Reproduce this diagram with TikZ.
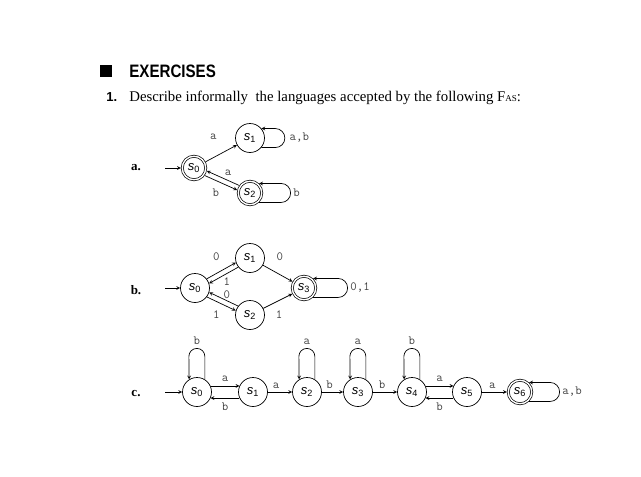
\documentclass[tikz,border=0pt]{standalone}
\usepackage{fontspec}
\setmainfont{Liberation Serif}
\setsansfont{Liberation Sans}
\newfontfamily\headfont{Liberation Sans}[FakeStretch=0.84]
\usetikzlibrary{arrows}
\tikzset{every path/.style={line width=0.7pt}, >=stealth,
  state/.style={circle, draw, minimum size=29pt, inner sep=0pt, font=\fontsize{13}{13}\sffamily\itshape},
  accept/.style={state, double, double distance=1.4pt, minimum size=23.5pt, outer sep=1.4pt},
  lbl/.style={font=\fontsize{12.5}{12.5}\ttfamily, text=black!75, inner sep=1.5pt},
  part/.style={font=\fontsize{13}{13}\bfseries, inner sep=0pt},
  rloop/.style={->, to path={-- ++(#1,0) arc[start angle=-90, end angle=90, radius=9.5pt] \tikztonodes -- (\tikztotarget)}},
  uloop/.style={->, to path={-- ++(0,23) arc[start angle=0, end angle=180, radius=8pt] \tikztonodes -- (\tikztotarget)}}}
\newcommand{\st}[1]{s\textsubscript{\upshape #1}}

\begin{document}
\begin{tikzpicture}[x=1pt,y=1pt]
   \useasboundingbox (0,0) rectangle (641,-477);
   \fill (100,-65) rectangle (112,-77);
   \node[anchor=base west, inner sep=0pt, font=\fontsize{18}{18}\headfont\bfseries] (title) at (129,-77) {EXERCISES};
   \node[anchor=base west, inner sep=0pt, font=\fontsize{13}{13}\sffamily\bfseries] (num) at (106,-101) {1.};
   \node[anchor=base west, inner sep=0pt, font=\fontsize{14.8}{14.8}\selectfont] (task) at (129,-101)
        {Describe informally\ \ the languages accepted by the following F{\small AS}:};
   \begin{scope}[yshift=-168pt]
    \node[part] (la) at (136,0) {a.};
    \coordinate (ina) at (165,0);
    \node[accept] (a0) at (194,0) {\st0};
    \node[state] (a1) at (250,30) {\st1};
    \node[accept] (a2) at (250,-25) {\st2};
    \draw[->] (ina) -- (a0);
    \draw[->] (a0) -- node[lbl, above left, pos=0.6, xshift=-6pt, yshift=10pt] {a} (a1);
    \draw[->] (a2.145) -- node[lbl, above right, yshift=1pt] {a} (a0.-13);
    \draw[->] (a0.-35) -- node[lbl, below left, yshift=-4pt] {b} (a2.167);
    \draw[rloop=14] (a1.-40) to node[lbl, right, xshift=3pt] {a,b} (a1.40);
    \draw[rloop=22] (a2.-46) to node[lbl, right, xshift=1pt] {b} (a2.46);
   \end{scope}
   \begin{scope}[yshift=-288pt]
    \node[part] (lb) at (136,-2) {b.};
    \coordinate (inb) at (165,0);
    \node[state] (b0) at (195,0) {\st0};
    \node[state] (b1) at (250,30) {\st1};
    \node[state] (b2) at (250,-27) {\st2};
    \node[accept] (b3) at (304,0) {\st3};
    \draw[->] (inb) -- (b0);
    \draw[->] (b0.38) -- node[lbl, above left, yshift=8pt] {0} (b1.198);
    \draw[->] (b1.218) -- node[lbl, below right, xshift=-2pt, yshift=-1pt] {1} (b0.18);
    \draw[->] (b2.143) -- node[lbl, above right, xshift=-2pt, yshift=-1pt] {0} (b0.-17);
    \draw[->] (b0.-37) -- node[lbl, below left, yshift=-5pt] {1} (b2.163);
    \draw[->] (b1) -- node[lbl, above right, pos=0.3, xshift=3pt, yshift=8pt] {0} (b3);
    \draw[->] (b2) -- node[lbl, below right, pos=0.3, xshift=2pt, yshift=-5pt] {1} (b3);
    \draw[rloop=25] (b3.-46) to node[lbl, right, xshift=1pt] {0,1} (b3.46);
   \end{scope}
   \begin{scope}[yshift=-392pt]
    \node[part] (lc) at (136,-2) {c.};
    \coordinate (inc) at (165,0);
    \node[state] (c0) at (197,0) {\st0};
    \node[state] (c1) at (253,0) {\st1};
    \node[state] (c2) at (307,0) {\st2};
    \node[state] (c3) at (358,0) {\st3};
    \node[state] (c4) at (412,0) {\st4};
    \node[state] (c5) at (467,0) {\st5};
    \node[accept] (c6) at (520,0) {\st6};
    \draw[->] (inc) -- (c0);
    \draw[->] (c0.24) -- node[lbl, above, yshift=3pt] {a} (c1.156);
    \draw[->] (c1.-156) -- node[lbl, below, yshift=-3pt] {b} (c0.-24);
    \draw[->] (c1) -- node[lbl, above, xshift=-4pt, yshift=2pt] {a} (c2);
    \draw[->] (c2) -- node[lbl, above, xshift=-3pt, yshift=2pt] {b} (c3);
    \draw[->] (c3) -- node[lbl, above, xshift=-3pt, yshift=2pt] {b} (c4);
    \draw[->] (c4.24) -- node[lbl, above, yshift=3pt] {a} (c5.156);
    \draw[->] (c5.-156) -- node[lbl, below, yshift=-3pt] {b} (c4.-24);
    \draw[->] (c5) -- node[lbl, above, xshift=-2pt, yshift=2pt] {a} (c6);
    \draw[uloop] (c0.58) to node[lbl, above, pos=0.5, yshift=2pt] {b} (c0.122);
    \draw[uloop] (c2.58) to node[lbl, above, pos=0.5, yshift=2pt] {a} (c2.122);
    \draw[uloop] (c3.58) to node[lbl, above, pos=0.5, yshift=2pt] {a} (c3.122);
    \draw[uloop] (c4.58) to node[lbl, above, pos=0.5, yshift=2pt] {b} (c4.122);
    \draw[rloop=21] (c6.-46) to node[lbl, right, xshift=1pt] {a,b} (c6.46);
   \end{scope}
\end{tikzpicture}
\end{document}
